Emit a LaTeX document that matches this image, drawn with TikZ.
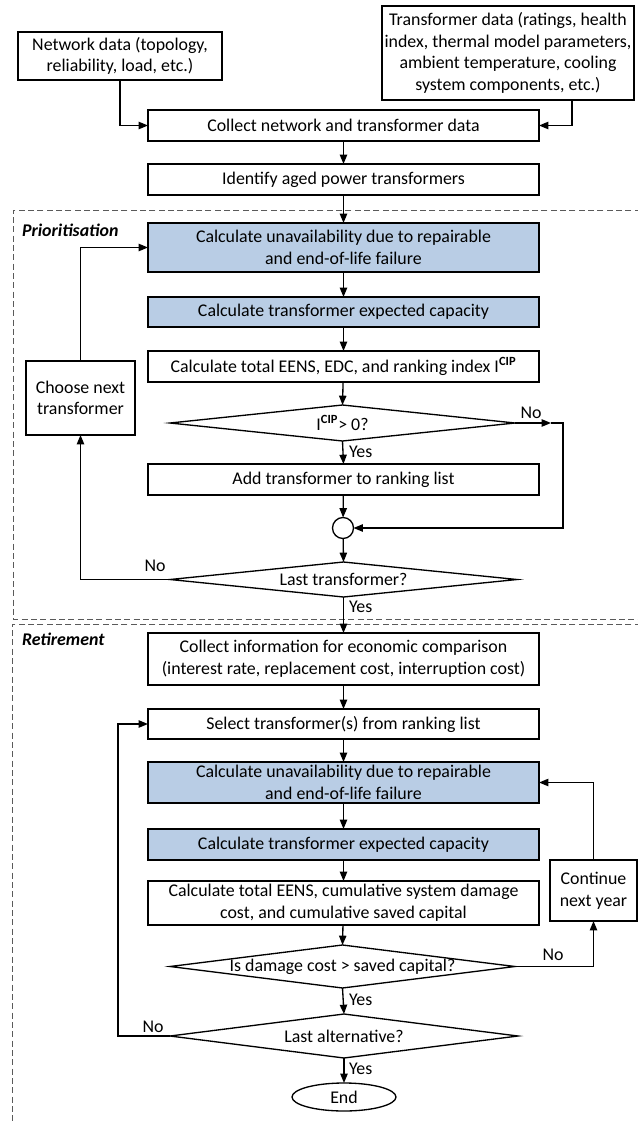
\documentclass[tikz,border=0pt]{standalone}
\usepackage{fontspec}
\setmainfont{Carlito}
\usetikzlibrary{shapes.geometric,arrows.meta,calc}
\definecolor{boxblue}{RGB}{185,205,229}
\definecolor{dashgray}{RGB}{90,90,90}
\begin{document}
\begin{tikzpicture}[x=0.75pt,y=-0.75pt,
  font=\fontsize{13.4}{16.2}\selectfont,
  every node/.style={inner sep=0pt,outer sep=0pt},
  every label/.style={inner sep=0pt},
  box/.style={draw,line width=1pt,align=center,minimum width=293.25pt,minimum height=23.25pt},
  bluebox/.style={box,fill=boxblue},
  dec/.style={draw,line width=1pt,shape=diamond,minimum width=258.75pt},
  arr/.style={line width=1pt,-{Triangle[length=7pt,width=5.5pt]}},
  sect/.style={draw=dashgray,line width=0.6pt,dash pattern=on 4.5pt off 2.5pt},
  lbl/.style={font=\fontsize{13.4}{15}\selectfont}
]
\useasboundingbox (0,0) rectangle (638,1121);

% dashed sections
\draw[sect] (650,210) -- (13,210) -- (13,619) -- (650,619);
\draw[sect] (650,624) -- (12,624) -- (12,1130);
\node[anchor=west,font=\fontsize{13.4}{15}\selectfont\bfseries\itshape] (lprio) at (22,230) {Prioritisation};
\node[anchor=west,font=\fontsize{13.4}{15}\selectfont\bfseries\itshape] (lret) at (22,639) {Retirement};

% top inputs
\node[box,minimum width=153pt,minimum height=36pt] (net) at (120,56) {Network data (topology,\\reliability, load, etc.)};
\node[box,minimum width=189pt,minimum height=70.5pt] (tdata) at (508,53) {Transformer data (ratings, health\\index, thermal model parameters,\\ambient temperature, cooling\\system components, etc.)};
\node[box] (collect) at (343.5,125.5) {Collect network and transformer data};
\node[box] (identify) at (343.5,179.5) {Identify aged power transformers};

% prioritisation
\node[bluebox,minimum height=36.75pt] (unav1) at (343.5,247.5) {Calculate unavailability due to repairable\\and end-of-life failure};
\node[bluebox,minimum height=22.5pt] (cap1) at (343.5,312) {Calculate transformer expected capacity};
\node[box] (eens1) at (343.5,366.5) {Calculate total EENS, EDC, and ranking index I\textsuperscript{\textbf{CIP}}};
\node[box,minimum width=81.75pt,minimum height=55.5pt] (choose) at (80.5,398) {Choose next\\transformer};
\node[dec,aspect=9.6,minimum height=27pt,label=center:{I\textsuperscript{\textbf{CIP}}> 0?}] (d1) at (342.5,423) {};
\node[box] (add) at (343.5,479.5) {Add transformer to ranking list};
\node[draw,line width=1pt,circle,minimum size=15.75pt] (circ) at (343,528) {};
\node[dec,aspect=9.9,minimum width=260.25pt,minimum height=26.25pt,label=center:{Last transformer?}] (d2) at (343.5,579.5) {};

% retirement
\node[box,minimum height=39pt] (info) at (343.5,659) {Collect information for economic comparison\\(interest rate, replacement cost, interruption cost)};
\node[box,minimum height=22.5pt] (select) at (343.5,724) {Select transformer(s) from ranking list};
\node[bluebox,minimum height=30.75pt] (unav2) at (343.5,782.5) {Calculate unavailability due to repairable\\and end-of-life failure};
\node[bluebox] (cap2) at (343.5,844.5) {Calculate transformer expected capacity};
\node[box,minimum height=33pt] (eens2) at (343.5,903) {Calculate total EENS, cumulative system damage\\cost, and cumulative saved capital};
\node[box,minimum width=65.25pt,minimum height=45.75pt] (cont) at (593.5,890.5) {Continue\\next year};
\node[dec,aspect=8,minimum height=32.25pt,label=center:{Is damage cost > saved capital?}] (d3) at (342.5,966.5) {};
\node[dec,aspect=7.9,minimum width=261pt,minimum height=33pt,label=center:{Last alternative?}] (d4) at (344,1036) {};
\node[draw,line width=1pt,ellipse,minimum width=78pt,minimum height=21pt] (end) at (344,1097) {End};

% helper coordinates
\coordinate (n1mid) at (551,423);
\coordinate (n1c) at (563,423);
\coordinate (lx) at (118,0);

% connectors top
\draw[arr] (net.south) |- (collect.west);
\draw[arr] ([xshift=48pt]tdata.south) |- (collect.east);
\draw[arr] (collect) -- (identify);
\draw[arr] (identify) -- (unav1);
\draw[arr] (unav1) -- (cap1);
\draw[arr] (cap1) -- (eens1);
\draw[arr] (eens1) -- (d1.north);
\draw[arr] (d1.east) -- (n1mid);
\draw[arr] (n1mid) -- (n1c) |- (circ.east);
\draw[arr] (d1.south) -- (add.north);
\draw[arr] (add) -- (circ);
\draw[arr] (circ) -- (d2.north);
\draw[arr] (d2.west) -| (choose.south);
\draw[arr] (choose.north) |- (unav1.west);
\draw[arr] (d2.south) -- (info.north);

% connectors retirement
\draw[arr] (info) -- (select);
\draw[arr] (select) -- (unav2);
\draw[arr] (unav2) -- (cap2);
\draw[arr] (cap2) -- (eens2);
\draw[arr] (eens2) -- (d3.north);
\draw[arr] (d3.east) -| (cont.south);
\draw[arr] (cont.north) |- (unav2.east);
\draw[arr] (d3.south) -- (d4.north);
\draw[arr] (d4.west) -- (d4.west -| lx) |- (select.west);
\draw[arr] (d4.south) -- (end.north);

% labels
\node[lbl] (no1) at (531,413) {No};
\node[lbl,anchor=west] (yes1) at (349,452) {Yes};
\node[lbl] (no2) at (155,566) {No};
\node[lbl,anchor=west] (yes2) at (349,607) {Yes};
\node[lbl] (no3) at (553,955) {No};
\node[lbl,anchor=west] (yes3) at (349,1000) {Yes};
\node[lbl] (no4) at (153,1027) {No};
\node[lbl,anchor=west] (yes4) at (349,1069) {Yes};
\end{tikzpicture}
\end{document}
